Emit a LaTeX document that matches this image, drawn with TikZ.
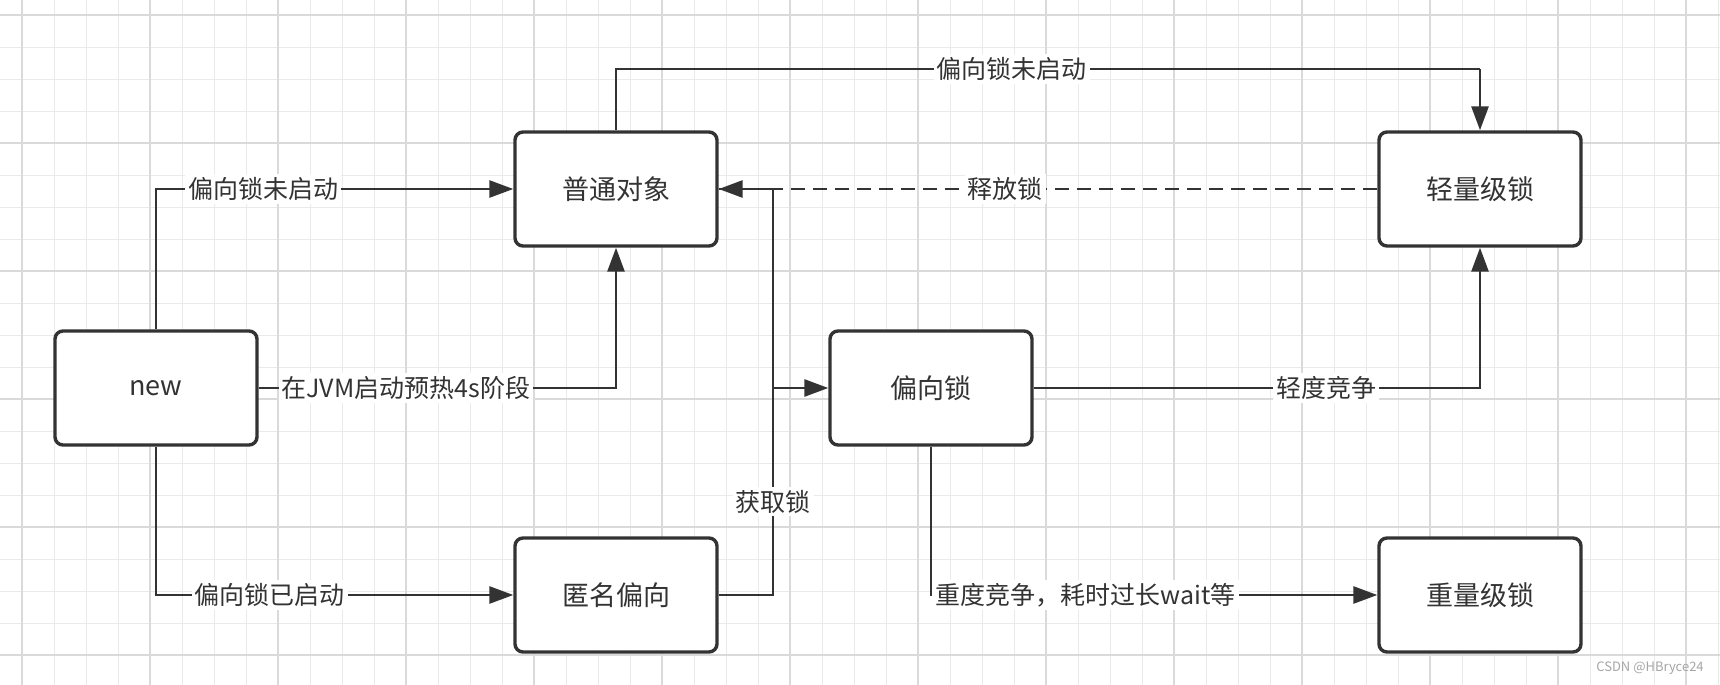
\documentclass[tikz,border=0pt]{standalone}
\usepackage{fontspec}
\setmainfont{Noto Sans CJK SC}
\usetikzlibrary{arrows.meta}
\definecolor{ink}{RGB}{51,51,51}
\definecolor{gridline}{RGB}{234,234,234}

\begin{document}
\begin{tikzpicture}[x=0.5pt,y=-0.5pt,
  box/.style={draw=ink,line width=1.7pt,rounded corners=4pt,fill=white,
    minimum width=101pt,minimum height=57pt,text=ink,font=\fontsize{13.5}{16}\selectfont},
  arr/.style={draw=ink,line width=1.4pt,-{Triangle[length=12pt,width=8.5pt]}},
  lbl/.style={fill=white,inner sep=1.5pt,text=ink,font=\fontsize{12.5}{15}\selectfont}]
\useasboundingbox (0,0) rectangle (1720,685);
\fill[white] (0,0) rectangle (1720,685);
\begin{scope}[shift={(22,15)}]
\draw[step=16pt,gridline,line width=0.5pt] (-22,-15) grid (1698,670);
\draw[step=64pt,gridline!85!gray,line width=1pt] (-22,-15) grid (1698,670);
\end{scope}

\node[box] (putong) at (616,189) {普通对象};
\node[box] (qingliang) at (1480,189) {轻量级锁};
\node[box] (newobj) at (156,388) {new};
\node[box] (pianxiang) at (931,388) {偏向锁};
\node[box] (niming) at (616,595) {匿名偏向};
\node[box] (zhongliang) at (1480,595) {重量级锁};
\coordinate (topbend) at (1480,69);
\coordinate (junction) at (773,388);

\draw[arr] (newobj.north) |- node[lbl,pos=0.65]{偏向锁未启动} (putong.west);
\draw[arr] (newobj.east) -| node[lbl,pos=0.206]{在JVM启动预热4s阶段} (putong.south);
\draw[arr] (newobj.south) |- node[lbl,pos=0.659]{偏向锁已启动} (niming.west);
\draw[draw=ink,line width=1.4pt] (putong.north) |- node[lbl,pos=0.729]{偏向锁未启动} (topbend);
\draw[arr] (topbend) -- (qingliang.north);
\draw[arr,dash pattern=on 7pt off 4pt] (qingliang.west) -- node[lbl,pos=0.565]{释放锁} (putong.east);
\draw[draw=ink,line width=1.4pt] (putong.east) -| (junction);
\draw[arr] (niming.east) -| node[lbl,pos=0.725]{获取锁} (junction) -- (pianxiang.west);
\draw[arr] (pianxiang.east) -| node[lbl,pos=0.328]{轻度竞争} (qingliang.south);
\draw[arr] (pianxiang.south) |- node[lbl,pos=0.5,anchor=west]{重度竞争，耗时过长wait等} (zhongliang.west);

\node[text=gray!70,font=\fontsize{6.5}{8}\selectfont] (mark) at (1650,668) {CSDN @HBryce24};
\end{tikzpicture}
\end{document}
